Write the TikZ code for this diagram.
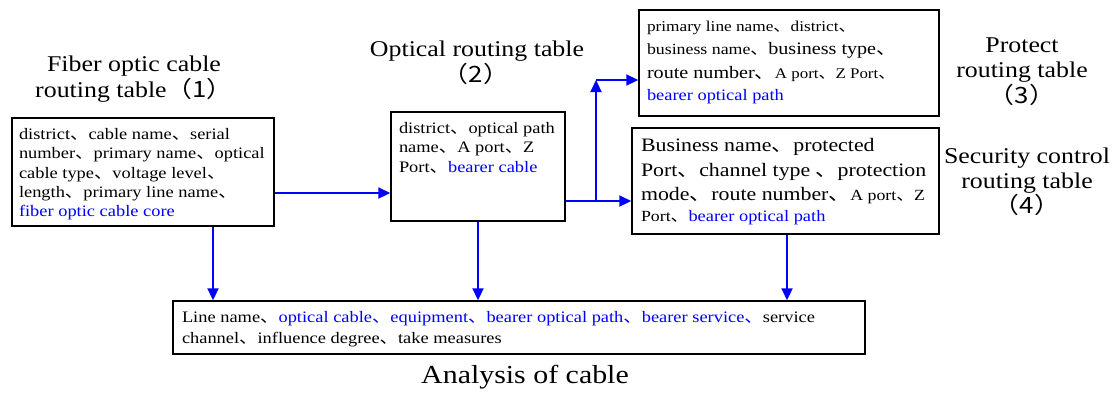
\documentclass[tikz,border=0pt]{standalone}
\usepackage{fontspec}
\usepackage{graphicx}
\usetikzlibrary{arrows.meta}
\setmainfont{Liberation Serif}
\newfontfamily\cjk{Noto Sans CJK SC}
% ideographic comma and size helper
\newcommand\dn{{\cjk 、}}
\newcommand\fsz[1]{\fontsize{#1}{#1}\selectfont}
% slightly widened lettering
\newcommand\sx[1]{\scalebox{1.15}[1]{#1}}

\begin{document}
\begin{tikzpicture}[x=1pt,y=-1pt,
  box/.style={draw=black, line width=1.5pt, fill=white, inner sep=0pt},
  ln/.style={anchor=base west, inner sep=0pt, outer sep=0pt, font=\fsz{16}},
  ttl/.style={anchor=base, inner sep=0pt, outer sep=0pt, font=\fsz{22.5}},
  flow/.style={draw=blue, line width=2.2pt, -{Triangle[length=12pt,width=11pt]}},
  wire/.style={draw=blue, line width=2.2pt},
  hl/.style={text=blue}]
\useasboundingbox (0,0) rectangle (1115,392);

% table boxes
\node[box, minimum width=262pt, minimum height=108pt] (b1) at (143,172) {};
\node[box, minimum width=174pt, minimum height=109pt] (b2) at (478,166.5) {};
\node[box, minimum width=300pt, minimum height=106pt] (b3) at (789,63) {};
\node[box, minimum width=307pt, minimum height=106pt] (b4) at (785.5,181) {};
\node[box, minimum width=692pt, minimum height=53pt] (b5) at (519,327.5) {};

% titles
\node[ttl] (t1a) at (134,71) {\sx{Fiber optic cable}};
\node[ttl] (t1b) at (134,97) {\sx{routing table{\cjk （1）}}};
\node[ttl] (t2a) at (477,56) {\sx{Optical routing table}};
\node[ttl] (t2b) at (476,82) {\sx{\cjk （2）}};
\node[ttl] (t3a) at (1022,52) {\sx{Protect}};
\node[ttl] (t3b) at (1022,77) {\sx{routing table}};
\node[ttl] (t3c) at (1022,103) {\sx{\cjk （3）}};
\node[ttl] (t4a) at (1027,163) {\sx{Security control}};
\node[ttl] (t4b) at (1027,188) {\sx{routing table}};
\node[ttl] (t4c) at (1027,213) {\sx{\cjk （4）}};
\node[ttl, font=\fsz{26}] (t5) at (525,383) {\sx{Analysis of cable}};

% fiber optic cable routing table fields
\node[ln] (l11) at (19,139) {\sx{district\dn cable name\dn serial}};
\node[ln] (l12) at (19,158) {\sx{number\dn primary name\dn optical}};
\node[ln] (l13) at (19,178) {\sx{cable type\dn voltage level\dn}};
\node[ln] (l14) at (19,197) {\sx{length\dn primary line name\dn}};
\node[ln, hl] (l15) at (19,216) {\sx{fiber optic cable core}};

% optical routing table fields
\node[ln] (l21) at (399,133) {\sx{district\dn optical path}};
\node[ln] (l22) at (399,152) {\sx{name\dn A port\dn Z}};
\node[ln] (l23) at (399,172) {\sx{Port\dn\textcolor{blue}{bearer cable}}};

% protect routing table fields
\node[ln, font=\fsz{15}] (l31) at (647,31) {\sx{primary line name\dn district\dn}};
\node[ln] (l32) at (647,54) {\sx{{\fsz{15.5}business name\dn}{\fsz{17.5}business type\dn}}};
\node[ln] (l33) at (647,78) {\sx{{\fsz{17.5}route number\dn}{\fsz{14.7}A port\dn Z Port\dn}}};
\node[ln, hl] (l34) at (647,100) {\sx{bearer optical path}};

% security control routing table fields
\node[ln, font=\fsz{19}] (l41) at (641,151) {\sx{Business name\dn protected}};
\node[ln, font=\fsz{19}] (l42) at (641,176) {\sx{Port\dn channel type \dn protection}};
\node[ln] (l43) at (641,200) {\sx{{\fsz{19}mode\dn route number\dn}{\fsz{15.5}A port\dn Z}}};
\node[ln] (l44) at (641,221) {\sx{{\fsz{15.5}Port\dn}\textcolor{blue}{bearer optical path}}};

% cable analysis fields
\node[ln] (l51) at (182,322) {\sx{Line name\dn\textcolor{blue}{optical cable\dn equipment\dn bearer optical path\dn bearer service\dn}service}};
\node[ln] (l52) at (182,343) {\sx{channel\dn influence degree\dn take measures}};

% connectors
\coordinate (split) at (596,201);
\coordinate (rise) at (596,80);
\draw[flow] (b1.east |- 0,193) -- (b2.west |- 0,193);
\draw[wire] (b2.east |- split) -- (split);
\draw[flow] (split) -- (b4.west |- split);
\draw[flow] (split) -- (rise);
\draw[flow] (rise) -- (b3.west |- rise);
\draw[flow] (b1.south -| 213,0) -- (b5.north -| 213,0);
\draw[flow] (b2.south -| 478,0) -- (b5.north -| 478,0);
\draw[flow] (b4.south -| 787,0) -- (b5.north -| 787,0);
\end{tikzpicture}
\end{document}
